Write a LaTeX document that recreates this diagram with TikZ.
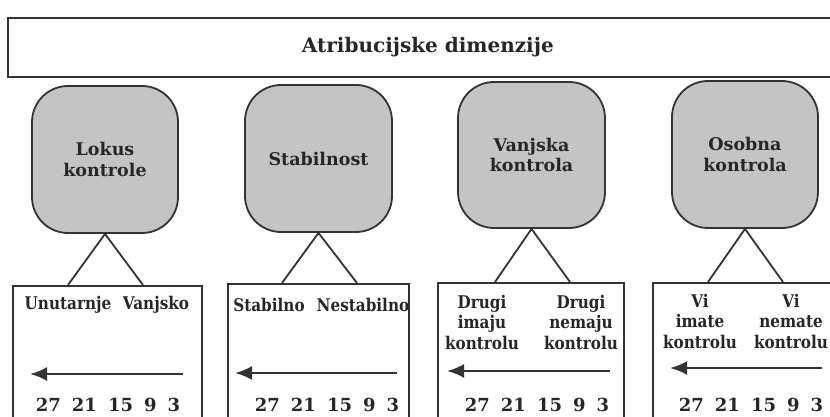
\documentclass[tikz,border=0pt]{standalone}
\usepackage{fontspec}
\setmainfont{DejaVu Serif}
\newfontfamily\narrowserif{DejaVu Serif}[FakeStretch=0.87]
\usetikzlibrary{arrows.meta,calc}
\begin{document}
\begin{tikzpicture}[x=1pt,y=-1pt,
  ink/.style={draw=black!80, line width=1.8pt},
  txt/.style={font=\bfseries\fontsize{17}{20}\selectfont, text=black!85, align=center, inner sep=0pt},
  ntxt/.style={txt, font=\narrowserif\bfseries\fontsize{17.5}{20.5}\selectfont},
  dimbox/.style={ink, fill=black!23, rounded corners=36pt, minimum width=146pt, minimum height=147pt, inner sep=0pt, txt, font=\bfseries\fontsize{17.5}{20.5}\selectfont},
  scalebox/.style={ink, minimum height=170pt, anchor=north west, inner sep=0pt},
  leg/.style={ink},
  pointer/.style={draw=black!80, line width=2.4pt, -{Latex[length=17pt,width=14pt]}},
  nums/.style={txt, font=\bfseries\fontsize{18}{20}\selectfont}
]
\useasboundingbox (0,0) rectangle (830,417);
\clip (0,0) rectangle (830,417);
\newcommand{\gapp}{\hspace{11pt}}

% header
\node[ink, minimum width=840pt, minimum height=59pt, anchor=north west, inner sep=0pt,
      txt, font=\bfseries\fontsize{20}{24}\selectfont] (top) at (7,17) {Atribucijske dimenzije};

% dimension boxes
\node[dimbox] (c1) at (105,159.5) {Lokus\\kontrole};
\node[dimbox, minimum width=147pt] (c2) at (318.5,158.5) {Stabilnost};
\node[dimbox, minimum width=147pt, minimum height=146pt] (c3) at (531.5,155) {Vanjska\\kontrola};
\node[dimbox] (c4) at (745,154.5) {Osobna\\kontrola};

% scale boxes
\node[scalebox, minimum width=189pt] (b1) at (12,285) {};
\node[scalebox, minimum width=181pt] (b2) at (227,283) {};
\node[scalebox, minimum width=186pt] (b3) at (437,282) {};
\node[scalebox, minimum width=200pt] (b4) at (652,282) {};

% legs
\coordinate (f1a) at ($(b1.north west)+(56,0)$);
\coordinate (f1b) at ($(b1.north west)+(131,0)$);
\coordinate (f2a) at ($(b2.north west)+(55,0)$);
\coordinate (f2b) at ($(b2.north west)+(130,0)$);
\coordinate (f3a) at ($(b3.north west)+(58,0)$);
\coordinate (f3b) at ($(b3.north west)+(133,0)$);
\coordinate (f4a) at ($(b4.north west)+(56,0)$);
\coordinate (f4b) at ($(b4.north west)+(131,0)$);
\draw[leg] (f1a) -- (c1.south) -- (f1b);
\draw[leg] (f2a) -- (c2.south) -- (f2b);
\draw[leg] (f3a) -- (c3.south) -- (f3b);
\draw[leg] (f4a) -- (c4.south) -- (f4b);

% labels
\node[ntxt] (l1a) at (68,305) {Unutarnje};
\node[ntxt] (l1b) at (156,305) {Vanjsko};
\node[ntxt] (l2a) at (269,305) {Stabilno};
\node[ntxt] (l2b) at (363,305) {Nestabilno};
\node[ntxt] (l3a) at (482,322) {Drugi\\imaju\\kontrolu};
\node[ntxt] (l3b) at (581,322) {Drugi\\nemaju\\kontrolu};
\node[ntxt] (l4a) at (700,321) {Vi\\imate\\kontrolu};
\node[ntxt] (l4b) at (791,321) {Vi\\nemate\\kontrolu};

% arrows
\coordinate (a1s) at (183,374); \coordinate (a1e) at (30,374);
\coordinate (a2s) at (397,373); \coordinate (a2e) at (235,373);
\coordinate (a3s) at (610,371); \coordinate (a3e) at (447,371);
\coordinate (a4s) at (822,368); \coordinate (a4e) at (670,368);
\draw[pointer] (a1s) -- (a1e);
\draw[pointer] (a2s) -- (a2e);
\draw[pointer] (a3s) -- (a3e);
\draw[pointer] (a4s) -- (a4e);

% numbers
\node[nums] (n1) at (108,405) {27\gapp21\gapp15\gapp9\gapp3};
\node[nums] (n2) at (327,405) {27\gapp21\gapp15\gapp9\gapp3};
\node[nums] (n3) at (537,405) {27\gapp21\gapp15\gapp9\gapp3};
\node[nums] (n4) at (751,405) {27\gapp21\gapp15\gapp9\gapp3};
\end{tikzpicture}
\end{document}
